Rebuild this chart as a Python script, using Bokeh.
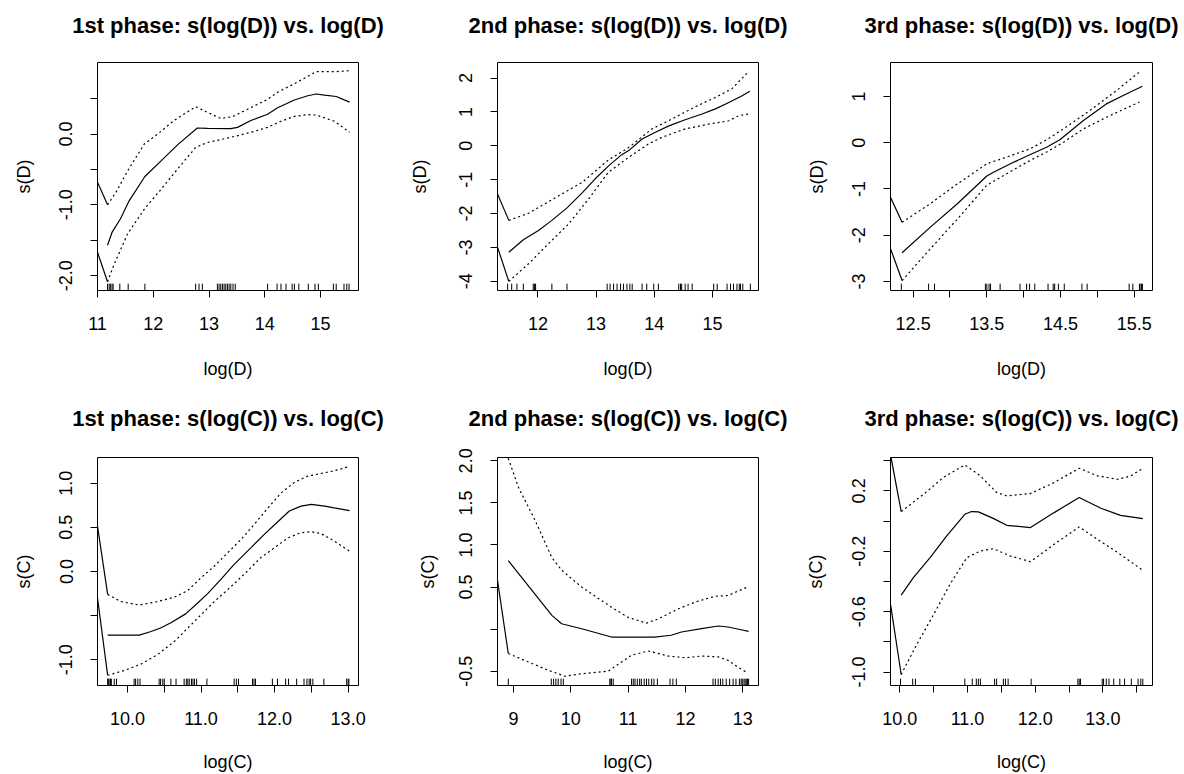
from bokeh.plotting import figure
from bokeh.layouts import gridplot
from bokeh.models import Range1d, FixedTicker, PrintfTickFormatter, Title
from bokeh.embed import file_html
from bokeh.resources import INLINE

FONT = "Liberation Sans"

# ---------------- data ----------------
titles = ["1st phase: s(log(D)) vs. log(D)", "2nd phase: s(log(D)) vs. log(D)", "3rd phase: s(log(D)) vs. log(D)",
          "1st phase: s(log(C)) vs. log(C)", "2nd phase: s(log(C)) vs. log(C)", "3rd phase: s(log(C)) vs. log(C)"]
xlabels = ["log(D)", "log(D)", "log(D)", "log(C)", "log(C)", "log(C)"]
ylabels = ["s(D)", "s(D)", "s(D)", "s(C)", "s(C)", "s(C)"]

# panel 1
p1_fit_x = [11.18, 11.26, 11.41, 11.57, 11.85, 12.14, 12.44, 12.79, 12.97, 13.39, 13.51, 13.75, 14.05, 14.23, 14.53, 14.77, 14.92, 15.07, 15.28, 15.52]
p1_fit_y = [-1.57, -1.39, -1.20, -0.94, -0.60, -0.38, -0.15, 0.085, 0.08, 0.075, 0.094, 0.19, 0.28, 0.37, 0.48, 0.54, 0.565, 0.55, 0.53, 0.45]
p1_up_x = [11.18, 11.33, 11.54, 11.84, 12.08, 12.37, 12.76, 12.97, 13.21, 13.42, 13.69, 14.05, 14.23, 14.53, 14.92, 15.25, 15.52]
p1_up_y = [-1.0, -0.825, -0.52, -0.14, 0.0, 0.19, 0.386, 0.306, 0.22, 0.245, 0.35, 0.49, 0.59, 0.71, 0.88, 0.88, 0.894]
p1_lo_x = [11.18, 11.30, 11.54, 11.84, 12.14, 12.44, 12.76, 12.97, 13.39, 13.75, 14.05, 14.29, 14.53, 14.77, 14.92, 15.25, 15.52]
p1_lo_y = [-2.086, -1.836, -1.41, -1.06, -0.78, -0.49, -0.19, -0.12, -0.047, 0.024, 0.094, 0.18, 0.25, 0.273, 0.268, 0.18, 0.024]
p1_edge = [-0.68, -1.67]
p1_rug = [11.18, 11.21, 11.23, 11.26, 11.28, 11.40, 11.55, 11.85, 12.76, 12.82, 12.88, 13.15, 13.18, 13.21, 13.24, 13.27,
          13.30, 13.33, 13.36, 13.39, 13.43, 13.47, 14.05, 14.22, 14.29, 14.38, 14.49, 14.53, 14.61, 14.78, 14.90, 14.96,
          15.23, 15.28, 15.42, 15.47, 15.51]

# panel 2
p2_fit_x = [11.50, 11.75, 12.01, 12.24, 12.50, 12.76, 12.98, 13.21, 13.44, 13.56, 13.79, 14.02, 14.25, 14.53, 14.82, 15.05, 15.28, 15.51, 15.64]
p2_fit_y = [-3.14, -2.77, -2.50, -2.20, -1.83, -1.39, -0.98, -0.60, -0.26, -0.14, 0.20, 0.40, 0.59, 0.77, 0.94, 1.09, 1.28, 1.48, 1.61]
p2_up_x = [11.50, 11.84, 12.07, 12.41, 12.76, 13.21, 13.56, 13.96, 14.30, 14.70, 15.05, 15.33, 15.59]
p2_up_y = [-2.20, -1.99, -1.76, -1.42, -1.08, -0.42, -0.05, 0.50, 0.79, 1.15, 1.43, 1.68, 2.14]
p2_lo_x = [11.50, 11.84, 12.18, 12.53, 12.87, 13.21, 13.56, 13.90, 14.13, 14.53, 14.93, 15.28, 15.45, 15.62]
p2_lo_y = [-4.00, -3.48, -2.89, -2.30, -1.57, -0.78, -0.34, 0.055, 0.25, 0.50, 0.64, 0.74, 0.89, 0.94]
p2_edge = [-1.42, -2.99]
p2_rug = [11.48, 11.55, 11.64, 11.75, 11.92, 11.94, 11.96, 12.24, 12.50, 13.19, 13.24, 13.30, 13.36, 13.42, 13.47, 13.53,
          13.58, 13.62, 13.79, 13.87, 13.99, 14.07, 14.42, 14.45, 14.47, 14.53, 14.58, 14.65, 15.02, 15.08, 15.25, 15.31,
          15.36, 15.42, 15.46, 15.48, 15.52, 15.65]

# panel 3
p3_fit_x = [12.35, 12.73, 13.10, 13.50, 13.59, 13.82, 14.09, 14.31, 14.49, 14.81, 15.12, 15.35, 15.61]
p3_fit_y = [-2.38, -1.83, -1.32, -0.72, -0.64, -0.455, -0.254, -0.096, 0.064, 0.48, 0.84, 1.02, 1.22]
p3_up_x = [12.35, 12.73, 13.10, 13.50, 13.77, 14.09, 14.31, 14.54, 14.90, 15.26, 15.57]
p3_up_y = [-1.72, -1.32, -0.89, -0.455, -0.31, -0.13, 0.064, 0.30, 0.70, 1.13, 1.53]
p3_lo_x = [12.35, 12.73, 13.10, 13.50, 13.77, 14.09, 14.31, 14.54, 14.81, 15.12, 15.57]
p3_lo_y = [-2.98, -2.30, -1.65, -0.92, -0.67, -0.38, -0.20, 0.01, 0.30, 0.55, 0.88]
p3_edge = [-1.18, -2.29]
p3_rug = [12.34, 12.71, 12.79, 13.48, 13.50, 13.53, 13.55, 13.68, 13.95, 14.04, 14.08, 14.15, 14.33, 14.40, 14.42, 14.47,
          14.55, 14.79, 14.86, 15.43, 15.48, 15.57, 15.59, 15.60, 15.61]

# panel 4
p4_fit_x = [9.73, 10.16, 10.32, 10.45, 10.59, 10.79, 10.91, 11.09, 11.27, 11.45, 11.68, 11.86, 12.00, 12.20, 12.36, 12.50, 12.68, 12.81, 13.02]
p4_fit_y = [-0.72, -0.72, -0.68, -0.64, -0.58, -0.48, -0.39, -0.25, -0.09, 0.08, 0.27, 0.42, 0.53, 0.685, 0.74, 0.76, 0.74, 0.72, 0.69]
p4_up_x = [9.73, 9.91, 10.16, 10.41, 10.64, 10.82, 11.00, 11.18, 11.36, 11.54, 11.72, 11.91, 12.09, 12.27, 12.45, 12.63, 12.81, 13.02]
p4_up_y = [-0.26, -0.34, -0.38, -0.34, -0.29, -0.215, -0.07, 0.06, 0.21, 0.36, 0.53, 0.72, 0.89, 1.01, 1.08, 1.11, 1.14, 1.19]
p4_lo_x = [9.73, 9.96, 10.18, 10.41, 10.64, 10.82, 11.00, 11.18, 11.41, 11.63, 11.81, 12.00, 12.18, 12.36, 12.50, 12.63, 12.81, 13.02]
p4_lo_y = [-1.175, -1.12, -1.05, -0.94, -0.79, -0.64, -0.49, -0.34, -0.17, 0.005, 0.155, 0.27, 0.38, 0.44, 0.45, 0.43, 0.345, 0.23]
p4_edge = [0.515, -0.30]
p4_rug = [9.73, 9.74, 9.76, 9.77, 9.78, 9.82, 9.85, 10.09, 10.11, 10.14, 10.17, 10.43, 10.45, 10.48, 10.50, 10.59, 10.66,
          10.77, 10.80, 10.82, 10.84, 10.87, 10.89, 10.91, 10.94, 11.08, 11.45, 11.48, 11.51, 11.70, 11.72, 11.74, 11.97,
          12.04, 12.15, 12.19, 12.30, 12.40, 12.44, 12.47, 12.49, 12.52, 12.67, 12.98, 13.00, 13.01]

# panel 5
p5_fit_x = [8.91, 9.67, 9.84, 10.19, 10.71, 11.00, 11.46, 11.75, 11.93, 12.28, 12.57, 12.74, 12.97, 13.10]
p5_fit_y = [0.815, 0.163, 0.064, 0.005, -0.094, -0.094, -0.094, -0.073, -0.034, 0.005, 0.037, 0.025, -0.007, -0.026]
p5_up_x = [8.91, 9.09, 9.38, 9.67, 9.84, 10.19, 10.71, 11.00, 11.32, 11.52, 11.87, 12.16, 12.51, 12.74, 13.08]
p5_up_y = [2.03, 1.68, 1.29, 0.85, 0.70, 0.50, 0.26, 0.14, 0.072, 0.12, 0.24, 0.32, 0.39, 0.40, 0.50]
p5_lo_x = [8.91, 9.26, 9.61, 9.90, 10.19, 10.65, 11.06, 11.35, 11.70, 11.99, 12.28, 12.57, 12.74, 12.91, 13.08]
p5_lo_y = [-0.29, -0.39, -0.49, -0.56, -0.53, -0.50, -0.31, -0.26, -0.32, -0.34, -0.32, -0.33, -0.37, -0.45, -0.52]
p5_edge = [2.9, 0.58]
p5_rug = [8.91, 9.66, 9.70, 9.74, 9.78, 9.83, 9.87, 10.68, 10.70, 10.71, 10.74, 11.06, 11.09, 11.12, 11.16, 11.20, 11.23,
          11.28, 11.32, 11.36, 11.41, 11.45, 11.51, 11.73, 11.78, 11.84, 12.48, 12.52, 12.57, 12.61, 12.65, 12.71, 12.77,
          12.83, 12.88, 12.94, 12.97, 12.99, 13.02, 13.04, 13.06, 13.08, 13.10]

# panel 6
p6_fit_x = [10.02, 10.20, 10.45, 10.69, 10.96, 11.06, 11.16, 11.38, 11.58, 11.93, 12.28, 12.65, 12.97, 13.26, 13.59]
p6_fit_y = [-0.49, -0.375, -0.24, -0.10, 0.045, 0.063, 0.061, 0.018, -0.028, -0.043, 0.056, 0.156, 0.085, 0.038, 0.016]
p6_up_x = [10.02, 10.35, 10.64, 10.96, 11.19, 11.43, 11.58, 11.93, 12.28, 12.65, 12.92, 13.22, 13.41, 13.57]
p6_up_y = [0.063, 0.177, 0.288, 0.372, 0.299, 0.189, 0.167, 0.182, 0.255, 0.35, 0.299, 0.277, 0.299, 0.343]
p6_lo_x = [10.02, 10.25, 10.50, 10.74, 10.99, 11.19, 11.38, 11.63, 11.93, 12.28, 12.65, 12.92, 13.22, 13.57]
p6_lo_y = [-1.016, -0.817, -0.618, -0.419, -0.242, -0.198, -0.183, -0.231, -0.269, -0.154, -0.039, -0.121, -0.209, -0.32]
p6_edge = [0.44, -0.55]
p6_rug = [10.01, 10.19, 10.23, 10.96, 11.07, 11.13, 11.16, 11.19, 11.40, 11.43, 11.53, 11.56, 11.60, 11.94, 12.63, 12.65,
          12.67, 12.99, 13.01, 13.05, 13.09, 13.16, 13.25, 13.32, 13.42, 13.52, 13.56, 13.59]

# tick values (labelled / unlabelled)
x_major = [[11, 12, 13, 14, 15], [12, 13, 14, 15], [12.5, 13.5, 14.5, 15.5],
           [10, 11, 12, 13], [9, 10, 11, 12, 13], [10, 11, 12, 13]]
x_minor = [[], [], [13, 14, 15], [10.5, 11.5, 12.5], [], [10.5, 11.5, 12.5, 13.5]]
y_major = [[-2, -1, 0], [-4, -3, -2, -1, 0, 1, 2], [-3, -2, -1, 0, 1],
           [-1, 0, 0.5, 1], [-0.5, 0.5, 1, 1.5, 2], [-1, -0.6, -0.2, 0.2]]
y_minor = [[-1.5, -0.5, 0.5], [], [], [-0.5], [0], [-0.8, -0.4, 0, 0.4]]
x_fmt = ["%d", "%d", "%.1f", "%.1f", "%d", "%.1f"]
y_fmt = ["%.1f", "%d", "%d", "%.1f", "%.1f", "%.1f"]

# ---------------- layout config ----------------
x_ranges = [(11.0, 15.68), (11.306, 15.79), (12.193, 15.747), (9.592, 13.141), (8.722, 13.273), (9.862, 13.733)]
y_ranges = [(-2.21, 1.01), (-4.27, 2.46), (-3.195, 1.735), (-1.291, 1.291), (-0.67, 2.04), (-1.089, 0.421)]
col_border = [(97, 37, 261), (102, 32, 261), (100, 31, 262)]
row_border = [(62, 97), (70, 88)]
row_spacer = [17, 19]
ylab_standoff = [23, 27, 23, 23, 19, 24]
xlab_standoff = [26, 26, 26, 24, 24, 24]

panels = [
    (p1_fit_x, p1_fit_y, p1_up_x, p1_up_y, p1_lo_x, p1_lo_y, p1_edge, p1_rug),
    (p2_fit_x, p2_fit_y, p2_up_x, p2_up_y, p2_lo_x, p2_lo_y, p2_edge, p2_rug),
    (p3_fit_x, p3_fit_y, p3_up_x, p3_up_y, p3_lo_x, p3_lo_y, p3_edge, p3_rug),
    (p4_fit_x, p4_fit_y, p4_up_x, p4_up_y, p4_lo_x, p4_lo_y, p4_edge, p4_rug),
    (p5_fit_x, p5_fit_y, p5_up_x, p5_up_y, p5_lo_x, p5_lo_y, p5_edge, p5_rug),
    (p6_fit_x, p6_fit_y, p6_up_x, p6_up_y, p6_lo_x, p6_lo_y, p6_edge, p6_rug),
]

LW = 1.2
DOT = "2 3"

figs = []
for i, (fx, fy, ux, uy, lx, ly, edge, rug) in enumerate(panels):
    r, c = divmod(i, 3)
    left, right, fw = col_border[c]
    top, bottom = row_border[r]
    xr, yr = x_ranges[i], y_ranges[i]
    p = figure(frame_width=fw, frame_height=228,
               min_border_left=left, min_border_right=right,
               min_border_top=top, min_border_bottom=bottom,
               x_range=Range1d(*xr), y_range=Range1d(*yr),
               title=titles[i], output_backend="svg", toolbar_location=None, tools="")
    p.title.text_font = FONT
    p.title.text_font_size = "22px"
    p.title.text_font_style = "bold"
    p.title.text_color = "black"
    p.title.align = "center"
    p.title.standoff = 10
    # small spacer between the title and the frame
    p.add_layout(Title(text=" ", text_font_size="1px", standoff=row_spacer[r]), "above")
    p.xgrid.visible = False
    p.ygrid.visible = False
    p.outline_line_color = "black"
    p.outline_line_width = 1
    p.outline_line_alpha = 1.0
    p.background_fill_color = "white"
    p.border_fill_color = "white"

    p.xaxis.ticker = FixedTicker(ticks=x_major[i], minor_ticks=x_minor[i])
    p.yaxis.ticker = FixedTicker(ticks=y_major[i], minor_ticks=y_minor[i])
    p.xaxis.formatter = PrintfTickFormatter(format=x_fmt[i])
    p.yaxis.formatter = PrintfTickFormatter(format=y_fmt[i])
    p.xaxis.axis_label = xlabels[i]
    p.yaxis.axis_label = ylabels[i]
    for ax in (p.xaxis, p.yaxis):
        ax.axis_line_color = None
        ax.major_tick_in = 0
        ax.major_tick_out = 7
        ax.minor_tick_in = 0
        ax.minor_tick_out = 7
        ax.major_tick_line_color = "black"
        ax.minor_tick_line_color = "black"
        ax.major_label_text_font = FONT
        ax.major_label_text_font_size = "18px"
        ax.major_label_text_color = "black"
        ax.axis_label_text_font = FONT
        ax.axis_label_text_font_size = "18px"
        ax.axis_label_text_font_style = "normal"
        ax.axis_label_text_color = "black"
    p.xaxis.major_label_standoff = 19
    p.yaxis.major_label_standoff = 18
    p.yaxis.major_label_orientation = "vertical"
    p.xaxis.axis_label_standoff = xlab_standoff[i]
    p.yaxis.axis_label_standoff = ylab_standoff[i]

    # fitted smooth and confidence band
    p.line(fx, fy, line_color="black", line_width=LW)
    p.line(ux, uy, line_color="black", line_width=LW, line_dash=DOT)
    p.line(lx, ly, line_color="black", line_width=LW, line_dash=DOT)
    # stray segments entering from the left edge
    p.segment(x0=[xr[0], xr[0]], y0=[edge[0], edge[1]], x1=[ux[0], lx[0]], y1=[uy[0], ly[0]],
              line_color="black", line_width=LW)
    # rug
    h = 0.03 * (yr[1] - yr[0])
    p.segment(x0=rug, y0=[yr[0]] * len(rug), x1=rug, y1=[yr[0] + h] * len(rug),
              line_color="black", line_width=1)
    figs.append(p)

grid = gridplot([figs[0:3], figs[3:6]], toolbar_location=None)
open("out.html", "w").write(file_html(grid, INLINE))
